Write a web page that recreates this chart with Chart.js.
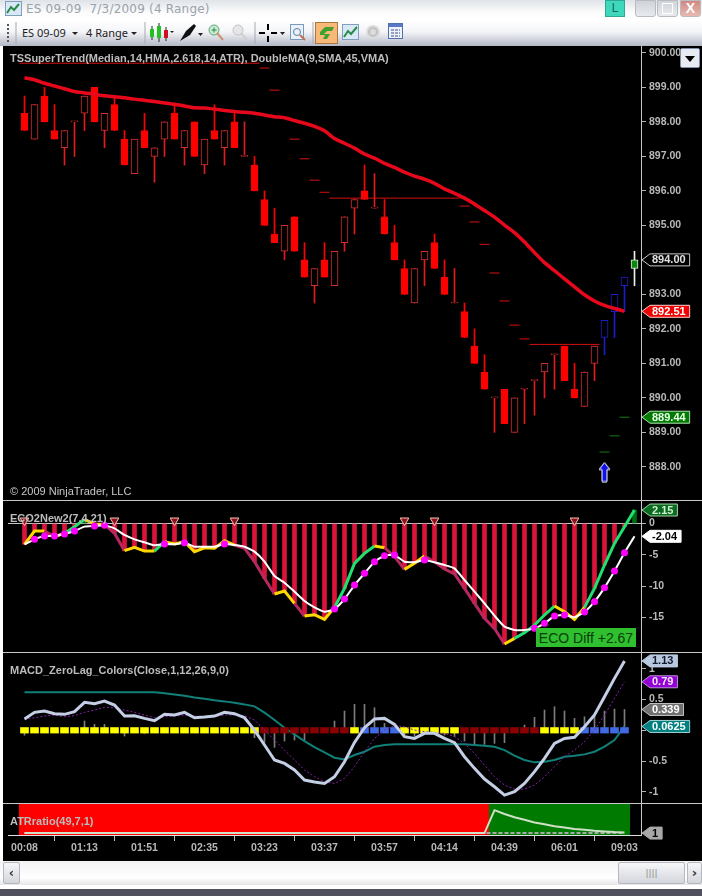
<!DOCTYPE html>
<html>
<head>
<meta charset="utf-8">
<script src="https://cdn.jsdelivr.net/npm/chart.js@4"></script>
<style>
  html, body { margin: 0; padding: 0; background: #fff; }
  #win { position: relative; width: 702px; height: 896px; overflow: hidden; font-family: "Liberation Sans", Arial, sans-serif; background: #fff; }
  #titlebar { position: absolute; left: 0; top: 0; width: 702px; height: 20px; background: linear-gradient(#dfe3e8, #fbfbfb 60%, #fff); }
  #titlebar .cap { position: absolute; left: 26px; top: 0; font: 12px "DejaVu Sans", sans-serif; line-height: 18px; color: #9aa2ab; letter-spacing: .2px; white-space: pre; }
  #toolbar { position: absolute; left: 0; top: 20px; width: 702px; height: 26px; background: linear-gradient(#fff, #f4f5f8 45%, #b4b8c6); }
  #toolbar span { position: absolute; top: 6px; font: 11px "Noto Sans", sans-serif; line-height: 14px; color: #1c1c1c; white-space: pre; }
  #toolbar svg, #titlebar svg { position: absolute; }
  .lbtn { position: absolute; left: 605px; top: 0; width: 20px; height: 17px; background: #3fd8bd; border: 1px solid #2ea894; box-sizing: border-box; font: 12px "Liberation Sans"; color: #166; text-align: center; line-height: 15px; }
  .wbtn { position: absolute; top: 0; width: 21px; height: 17px; border: 1px solid #b8bcc2; border-radius: 0 0 3px 3px; box-sizing: border-box; background: linear-gradient(#cfd3d8, #e8eaee); color: #fff; text-align: center; }
  #pane { position: absolute; left: 3px; top: 46px; width: 699px; height: 815px; background: #000; }
  canvas { position: absolute; left: 8px; }
  .sep { position: absolute; left: 3px; width: 699px; height: 1px; background: #c8c8c8; }
  .cap { position: absolute; color: #c0c0c0; white-space: pre; }
  .ptitle { position: absolute; left: 10px; font: bold 11px "Liberation Sans", sans-serif; line-height: 12px; color: #bcbcbc; white-space: pre; }
  #ecobox { position: absolute; left: 536px; top: 628px; width: 100px; height: 19px; background: #2fbf2f; color: #0b3d0b; font: 14px "Liberation Sans", sans-serif; line-height: 20px; text-align: center; white-space: pre; }
  #drop { position: absolute; left: 680px; top: 48px; width: 20px; height: 20px; box-sizing: border-box; border: 1px solid #7f90a8; border-radius: 2px; background: #e8ecf2; }
  #drop:after { content: ""; position: absolute; left: 4px; top: 7px; border: 5px solid transparent; border-top: 6px solid #000; }
  #scroll { position: absolute; left: 0; top: 861px; width: 702px; height: 24px; background: linear-gradient(#f3f3f4, #fff 70%, #e6e6e8); }
  #scroll div { position: absolute; top: 1px; height: 22px; box-sizing: border-box; border: 1px solid #b6b8be; border-radius: 2px; background: linear-gradient(#f6f7f9, #d3d6dc); text-align: center; font: bold 13px "DejaVu Sans", sans-serif; line-height: 20px; color: #333; }
  #foot { position: absolute; left: 0; top: 889px; width: 702px; height: 7px; background: #50505e; }
</style>
</head>
<body>
<div id="win">
  <div id="titlebar">
    <svg style="left:5px;top:1px" width="18" height="16"><rect x=".5" y=".5" width="16" height="14" fill="#d8e8f4" stroke="#7f9fbf"/><path d="M2 12 L6 6 L9 9 L14 3" stroke="#2a8a4a" stroke-width="2" fill="none"/></svg>
    <div class="cap">ES 09-09  7/3/2009 (4 Range)</div>
    <div class="lbtn">L</div>
    <div class="wbtn" style="left:635px">_</div>
    <div class="wbtn" style="left:657px"><svg style="left:4px;top:2px" width="11" height="11"><rect x=".5" y=".5" width="10" height="10" fill="none" stroke="#fff"/></svg></div>
    <div class="wbtn" style="left:680px;background:linear-gradient(#d08880,#e8b8b0);font:bold 14px 'Liberation Sans';line-height:15px">X</div>
  </div>
  <div id="toolbar">
    <svg style="left:5px;top:3px" width="6" height="20"><path d="M3 1V19" stroke="#555" stroke-dasharray="2 2" stroke-width="2"/></svg>
    <svg style="left:15px;top:2px" width="2" height="22"><path d="M1 0V22" stroke="#a8a8b0"/></svg>
    <span style="left:22px">ES 09-09</span>
    <svg style="left:72px;top:12px" width="7" height="4"><path d="M0 0H6L3 3Z" fill="#222"/></svg>
    <span style="left:86px">4 Range</span>
    <svg style="left:131px;top:12px" width="7" height="4"><path d="M0 0H6L3 3Z" fill="#222"/></svg>
    <svg style="left:144px;top:2px" width="2" height="22"><path d="M1 0V22" stroke="#a8a8b0"/></svg>
    <svg style="left:148px;top:3px" width="26" height="20"><path d="M4 3V17M11 0V19M18 4V18" stroke="#222"/><rect x="2" y="6" width="4" height="8" fill="#22c020"/><rect x="9" y="3" width="4" height="12" fill="#22c020"/><rect x="16" y="7" width="4" height="8" fill="#d01020"/><path d="M22 8H26L24 10Z" fill="#222"/></svg>
    <svg style="left:178px;top:3px" width="26" height="20"><path d="M2 18L8 8L16 1L18 3L12 12Z" fill="#111"/><path d="M20 10H25L22.500 13Z" fill="#222"/></svg>
    <svg style="left:208px;top:4px" width="16" height="18"><circle cx="6" cy="6" r="5" fill="#cfe8d8" stroke="#58a878"/><path d="M9 9L15 16" stroke="#d09070" stroke-width="2"/><path d="M3.500 6H8.500M6 3.500V8.500" stroke="#209040"/></svg>
    <svg style="left:232px;top:4px" width="16" height="18"><circle cx="6" cy="6" r="5" fill="#e6e6e6" stroke="#c4c4c4"/><path d="M9 9L15 16" stroke="#d0d0d0" stroke-width="2"/></svg>
    <svg style="left:254px;top:2px" width="2" height="22"><path d="M1 0V22" stroke="#a8a8b0"/></svg>
    <svg style="left:258px;top:3px" width="28" height="20"><path d="M10 1V7M10 13V19M1 10H7M13 10H19" stroke="#000" stroke-width="2"/><path d="M22 9H27L24.500 12Z" fill="#222"/></svg>
    <svg style="left:290px;top:4px" width="16" height="18"><rect x=".5" y=".5" width="13" height="15" fill="#e8f0fa" stroke="#7a98bc"/><circle cx="7" cy="8" r="3.500" fill="none" stroke="#6080a0"/><path d="M10 11L15 16" stroke="#c07050" stroke-width="2"/></svg>
    <svg style="left:312px;top:2px" width="2" height="22"><path d="M1 0V22" stroke="#a8a8b0"/></svg>
    <svg style="left:315px;top:2px" width="23" height="22"><rect x=".5" y=".5" width="22" height="21" fill="#f8b878" stroke="#a87840"/><path d="M5 10L10 5H19L17 9H12L9 12H15L12 17H8L10 13H5Z" fill="#40a030"/></svg>
    <svg style="left:342px;top:4px" width="18" height="18"><rect x=".5" y=".5" width="16" height="15" fill="#d8e8f4" stroke="#7f9fbf"/><path d="M2 13L6 7L9 10L15 3" stroke="#2a8a4a" stroke-width="2" fill="none"/></svg>
    <svg style="left:365px;top:4px" width="18" height="18"><circle cx="8" cy="8" r="7" fill="#dcdcdc"/><circle cx="8" cy="8" r="4" fill="none" stroke="#c2c2c2" stroke-width="2"/></svg>
    <svg style="left:388px;top:3px" width="16" height="18"><rect x=".5" y=".5" width="14" height="15" fill="#eef2fa" stroke="#5070b0"/><rect x="1" y="1" width="13" height="3" fill="#5878c8"/><path d="M3 7H12M3 10H12M3 13H12" stroke="#405080" stroke-dasharray="3 1"/></svg>
  </div>

  <div id="pane"></div>
  <canvas id="priceChart" style="top:46px" width="694" height="454"></canvas>
  <canvas id="ecoChart" style="top:501px" width="694" height="151"></canvas>
  <canvas id="macdChart" style="top:653px" width="694" height="150"></canvas>
  <canvas id="atrChart" style="top:804px" width="694" height="57"></canvas>
  <div class="sep" style="top:500px"></div>
  <div class="sep" style="top:652px"></div>
  <div class="sep" style="top:803px"></div>

  <div class="ptitle" style="top:52px">TSSuperTrend(Median,14,HMA,2.618,14,ATR), DoubleMA(9,SMA,45,VMA)</div>
  <div class="ptitle" style="top:485px;font-weight:normal;color:#c8c8c8">© 2009 NinjaTrader, LLC</div>
  <div class="ptitle" style="top:512px">ECO2New2(7,4,21)</div>
  <div class="ptitle" style="top:664px">MACD_ZeroLag_Colors(Close,1,12,26,9,0)</div>
  <div class="ptitle" style="top:815px">ATRratio(49,7,1)</div>
  <div id="ecobox">ECO Diff +2.67</div>
  <div id="drop"></div>

  <div id="scroll">
    <div style="left:3px;width:17px">‹</div>
    <div style="left:618px;width:67px;font-weight:normal;font-size:9px;color:#888">||||</div>
    <div style="left:687px;width:15px">›</div>
  </div>
  <div id="foot"></div>
</div>

<script>
const timeLabels = ['00:08', '01:13', '01:51', '02:35', '03:23', '03:37', '03:57', '04:14', '04:39', '06:01', '09:03'];
const timeTickBars = [0, 6, 12, 18, 24, 30, 36, 42, 48, 54, 60];

const opens = [898.25, 897.5, 898.75, 897.75, 897.25, 898, 898.25, 899, 897.75, 898.5, 897.5, 896.5, 897.75, 897, 897.5, 898.25, 897.25, 898, 896.75, 897.75, 897.25, 898, 897, 896.75, 895.75, 894.75, 894.25, 895.25, 894, 893.25, 894, 893.25, 894.5, 895.5, 896, 895.5, 895.25, 894.5, 893.75, 892.75, 894, 894.5, 893.5, 892.75, 892.5, 891.5, 890.75, 890, 890.25, 889, 890.25, 890.5, 890.75, 891.25, 891.5, 890.25, 889.75, 891, 891.75, 892.5, 893.25, 893.75];
const highs = [898.75, 898.5, 899, 898.5, 897.75, 898, 898.75, 899, 898.25, 898.75, 897.75, 897.5, 898.25, 897.25, 898, 898.5, 897.75, 898, 897.5, 898.5, 897.75, 898.25, 898, 897, 896, 895.5, 895, 895.25, 894.5, 893.75, 894.5, 894.25, 895.25, 895.75, 896.75, 896.5, 895.75, 895, 894, 893.75, 894.25, 894.75, 894, 893.75, 892.75, 892, 891.25, 890, 890.25, 890, 890.25, 890.5, 891, 891.25, 891.5, 891, 890.75, 891.5, 892.25, 893, 893.5, 894.25];
const lows = [897.75, 897.5, 898, 897.5, 896.75, 897, 897.75, 898, 897.25, 897.75, 896.75, 896.5, 897.25, 896.25, 897, 897.5, 896.75, 897, 896.5, 897.5, 896.75, 897.25, 897, 896, 895, 894.5, 894, 894.25, 893.5, 892.75, 893.5, 893.25, 894.25, 894.75, 895.75, 895.5, 894.75, 894, 893, 892.75, 893.25, 893.75, 893, 892.75, 891.75, 891, 890.25, 889, 889.25, 889, 889.25, 889.5, 890, 890.25, 890.5, 890, 889.75, 890.5, 891.25, 891.75, 892.5, 893.25];
const closes = [897.75, 898.5, 898, 897.5, 897.75, 898, 898.75, 898, 898.25, 897.75, 896.75, 897.5, 897.25, 897.25, 898, 897.5, 897.75, 897, 897.5, 897.5, 897.75, 897.25, 897, 896, 895, 894.5, 895, 894.25, 893.5, 893.75, 893.5, 894.25, 895.25, 895.75, 895.75, 895.5, 894.75, 894, 893, 893.75, 894.25, 893.75, 893, 892.75, 891.75, 891, 890.25, 890, 889.25, 890, 890.25, 890.5, 891, 891.25, 890.5, 890, 890.75, 891.5, 892.25, 893, 893.5, 894];

const slowMa = [899.28, 899.22, 899.12, 899.04, 898.96, 898.88, 898.84, 898.80, 898.76, 898.73, 898.70, 898.66, 898.63, 898.59, 898.55, 898.51, 898.46, 898.41, 898.40, 898.37, 898.33, 898.30, 898.28, 898.25, 898.20, 898.15, 898.12, 898.04, 897.96, 897.87, 897.74, 897.52, 897.38, 897.24, 897.07, 896.95, 896.80, 896.68, 896.54, 896.43, 896.34, 896.22, 896.06, 895.93, 895.79, 895.62, 895.43, 895.24, 895.01, 894.79, 894.52, 894.21, 893.92, 893.69, 893.45, 893.22, 892.99, 892.81, 892.68, 892.59, 892.51];
const trendDown = [899.7, 899.7, 899.7, 899.7, 899.7, 899.7, 899.7, 899.7, 899.7, 899.7, 899.7, 899.7, 899.7, 899.7, 899.7, 899.7, 899.7, 899.7, 899.7, 899.7, 899.7, 899.7, 899.7, 899.7, 899.56, 898.92, 898.13, 897.5, 896.93, 896.31, 895.96, 895.79, 895.79, 895.79, 895.79, 895.79, 895.79, 895.79, 895.79, 895.79, 895.79, 895.79, 895.79, 895.79, 895.56, 895.1, 894.45, 893.62, 892.81, 892.11, 891.71, 891.55, 891.55, 891.55, 891.55, 891.55, 891.55, 891.55];
const trendUp = { 58: 888.43, 59: 888.9, 60: 889.44 };
const arrowBar = 58;
const arrowPrice = 887.85;
const priceTicks = [900, 899, 898, 897, 896, 895, 894, 893, 892, 891, 890, 889, 888];
const priceTags = ['892.51', '889.44', '894.00'];

const ecoLine = [-3.32, -1.2, -1.2, -2.1, -1.57, -0.5, 0.66, -0.08, -0.14, -1.56, -4.33, -3.8, -4.39, -4.39, -2.9, -3.27, -2.9, -4.49, -3.87, -3.96, -2.74, -3.43, -3.96, -6.09, -8.74, -11.24, -10.77, -12.73, -14.75, -14.54, -15.28, -13.37, -10.34, -6.35, -4.76, -3.59, -3.85, -5.29, -7.31, -6.35, -5.19, -6.09, -7.25, -8.05, -10.34, -12.73, -15.12, -16.72, -19.22, -18.31, -17.41, -16.2, -14.59, -13.16, -14.07, -15.28, -13.37, -10.34, -6.62, -3.16, -0.5, 2.15];
const ecoStates = 'yyryggyyrryyygyyyyyyyrrrryyryyyggggyrryyrrrrrrrryggggyyygggg' + 'g';
const ecoSignal = [-3.32, -2.52, -1.99, -1.99, -1.67, -1.2, -0.5, -0.4, -0.29, -0.77, -1.83, -2.52, -3.0, -3.48, -3.27, -3.32, -3.06, -3.7, -3.7, -3.7, -3.27, -3.43, -3.7, -4.49, -6.09, -8.37, -9.44, -10.87, -12.36, -13.37, -14.06, -13.64, -12.04, -9.81, -7.95, -6.09, -5.13, -5.02, -6.09, -6.19, -5.82, -6.19, -6.62, -7.15, -9.01, -10.87, -12.73, -14.7, -16.45, -16.98, -16.98, -16.72, -15.92, -14.75, -14.59, -14.96, -14.11, -12.47, -10.23, -7.58, -4.65, -2.04];
const ecoDotBars = [1, 2, 3, 4, 5, 7, 8, 14, 16, 20, 31, 32, 33, 34, 35, 36, 37, 40, 51, 52, 53, 54, 56, 57, 58, 59, 60];
const ecoFlagBars = [0, 9, 15, 21, 38, 41, 55];
const ecoFlagLevel = 0.48;
const ecoTicks = [0, -5, -10, -15];
const ecoTags = ['2.15', '-2.04'];

const macdLine = [0.183, 0.292, 0.314, 0.27, 0.26, 0.303, 0.455, 0.433, 0.477, 0.411, 0.232, 0.238, 0.194, 0.156, 0.26, 0.249, 0.292, 0.205, 0.216, 0.232, 0.292, 0.27, 0.205, 0.004, -0.24, -0.484, -0.539, -0.647, -0.81, -0.843, -0.865, -0.756, -0.512, -0.197, 0.042, 0.183, 0.194, 0.097, -0.104, -0.132, -0.05, -0.05, -0.132, -0.202, -0.43, -0.62, -0.794, -0.919, -1.055, -1.0, -0.865, -0.674, -0.457, -0.213, -0.132, -0.115, 0.059, 0.249, 0.547, 0.846, 1.13];
const macdAvg = [0.183, 0.205, 0.232, 0.249, 0.221, 0.238, 0.292, 0.33, 0.373, 0.368, 0.33, 0.292, 0.249, 0.205, 0.221, 0.232, 0.249, 0.232, 0.221, 0.227, 0.249, 0.249, 0.238, 0.167, 0.004, -0.159, -0.322, -0.484, -0.647, -0.756, -0.837, -0.865, -0.783, -0.593, -0.349, -0.132, 0.004, 0.075, 0.059, 0.004, -0.023, -0.034, -0.05, -0.104, -0.213, -0.376, -0.566, -0.756, -0.892, -0.957, -0.957, -0.892, -0.756, -0.593, -0.43, -0.322, -0.186, 0.004, 0.249, 0.52, 0.79];
const macdSlow = [0.618, 0.618, 0.618, 0.618, 0.618, 0.618, 0.618, 0.618, 0.618, 0.618, 0.618, 0.618, 0.618, 0.618, 0.602, 0.585, 0.564, 0.536, 0.515, 0.488, 0.471, 0.45, 0.422, 0.39, 0.287, 0.167, 0.042, -0.066, -0.175, -0.273, -0.36, -0.446, -0.474, -0.403, -0.349, -0.267, -0.24, -0.229, -0.229, -0.229, -0.229, -0.229, -0.229, -0.229, -0.229, -0.24, -0.251, -0.267, -0.322, -0.414, -0.484, -0.522, -0.512, -0.484, -0.43, -0.414, -0.392, -0.349, -0.267, -0.159, 0.0625];
const macdDiff = [-0.08, 0.01, 0.02, 0.01, 0.02, 0.03, 0.151, 0.097, 0.097, 0.02, -0.094, -0.03, -0.05, 0.02, 0.02, 0.01, 0.02, 0.02, 0.01, 0.02, 0.02, 0.02, 0.01, -0.12, -0.197, -0.278, -0.175, -0.159, -0.159, -0.03, 0.02, 0.151, 0.314, 0.422, 0.422, 0.368, 0.113, 0.059, -0.077, -0.094, 0.01, -0.03, -0.077, -0.104, -0.175, -0.229, -0.229, -0.213, -0.202, 0.02, 0.086, 0.211, 0.33, 0.384, 0.314, 0.194, 0.221, 0.238, 0.314, 0.346, 0.339];
const macdStates = 'yyyyyyyyyyyyyyyyyyyyyyyyrrrrrrrrrybbbbyyyyyyrrrrrrrryyyybbbbb';
const macdTicks = [1, 0.5, 0, -0.5, -1];
const macdTags = ['0.0625', '0.339', '0.79', '1.13'];

const atrRatio = [1, 1, 1, 1, 1, 1, 1, 1, 1, 1, 1, 1, 1, 1, 1, 1, 1, 1, 1, 1, 1, 1, 1, 1, 1, 1, 1, 1, 1, 1, 1, 1, 1, 1, 1, 1, 1, 1, 1, 1, 1, 1, 1, 1, 1, 1, 1, 4.94, 4.28, 3.72, 3.28, 2.83, 2.5, 2.17, 1.94, 1.72, 1.56, 1.39, 1.28, 1.17, 1.11];
const atrBase = [1, 1, 1, 1, 1, 1, 1, 1, 1, 1, 1, 1, 1, 1, 1, 1, 1, 1, 1, 1, 1, 1, 1, 1, 1, 1, 1, 1, 1, 1, 1, 1, 1, 1, 1, 1, 1, 1, 1, 1, 1, 1, 1, 1, 1, 1, 1, 1, 1, 1, 1, 1, 1, 1, 1, 1, 1, 1, 1, 1, 1];
const atrStates = 'rrrrrrrrrrrrrrrrrrrrrrrrrrrrrrrrrrrrrrrrrrrrrrrgggggggggggggg';
const atrTags = ['1'];

const gray = '#b8b8b8';
const tickFont = { family: 'Liberation Sans', size: 10.5, weight: 'bold' };
const xRange = { min: -1.65, max: 61.65 };

const points = (values) => values.map((v, i) => ({ x: i, y: v }));

// one flat dash per bar, joined where the level holds
const stepPoints = (values) => {
  const out = [];
  Object.keys(values).map(Number).forEach((i) => {
    out.push({ x: i - 0.5, y: values[i] }, { x: i + 0.5, y: values[i] });
    if (values[i + 1] !== values[i]) out.push({ x: i + 0.5, y: null });
  });
  return out;
};

const yAxis = (min, max, ticks, fmt) => ({
  min, max,
  position: 'right',
  grid: {
    tickLength: 5,
    tickColor: '#b0b0b0',
    color: (c) => (c.tick && c.tick.value === 0 && ticks === ecoTicks ? '#c8c8c8' : 'transparent')
  },
  border: { color: '#c8c8c8', display: true },
  ticks: { color: gray, font: tickFont, padding: 3, autoSkip: false, maxRotation: 0, crossAlign: 'near', callback: fmt },
  afterBuildTicks: (s) => { s.ticks = ticks.map((v) => ({ value: v })); },
  // keep the plot area the full pane height, the labels may overhang
  afterFit: (s) => { s.width = 61; s.paddingTop = 0; s.paddingBottom = 0; }
});

const xAxis = Object.assign({ type: 'linear', display: false, offset: false, grid: { display: false } }, xRange);

const tagStyles = {
  '894.00': ['#000', '#e0e0e0', '#c8c8c8'], '892.51': ['#f00000', '#fff', '#ffd0d0'], '889.44': ['#007a00', '#e8ffe8', '#b0e0b0'],
  '2.15': ['#0a6a20', '#d0f0d0', '#a0d0a0'], '-2.04': ['#fff', '#000', '#fff'],
  '1.13': ['#b8c8de', '#10182a', '#b8c8de'], '0.79': ['#9400d3', '#f4e8ff', '#c090e0'], '0.339': ['#707070', '#fff', '#c0c0c0'], '0.0625': ['#008080', '#fff', '#a0d0d0'],
  '1': ['#a8a8a8', '#000', '#a8a8a8']
};

// value boxes on the price axis, pointing at the scale
const tagPlugin = (labels) => ({
  id: 'axisTags',
  afterDraw(chart) {
    const c = chart.ctx;
    const y = chart.scales.y;
    const left = chart.chartArea.right + 1;
    c.save();
    c.font = 'bold 11px "Liberation Sans"';
    c.textBaseline = 'middle';
    labels.forEach((txt) => {
      const [bg, fg, edge] = tagStyles[txt];
      const py = y.getPixelForValue(parseFloat(txt));
      const right = left + 11 + c.measureText(txt).width + 3;
      c.beginPath();
      c.moveTo(left, py);
      c.lineTo(left + 8, py - 6);
      c.lineTo(right, py - 6);
      c.lineTo(right, py + 6);
      c.lineTo(left + 8, py + 6);
      c.closePath();
      c.fillStyle = bg;
      c.fill();
      c.strokeStyle = edge;
      c.stroke();
      c.fillStyle = fg;
      c.fillText(txt, left + 10, py + 0.5);
    });
    c.restore();
  }
});

const arrowIcon = () => {
  const cv = document.createElement('canvas');
  cv.width = 13;
  cv.height = 21;
  const c = cv.getContext('2d');
  c.beginPath();
  c.moveTo(6.5, 1);
  c.lineTo(12, 8);
  c.lineTo(9, 8);
  c.lineTo(9, 20);
  c.lineTo(4, 20);
  c.lineTo(4, 8);
  c.lineTo(1, 8);
  c.closePath();
  c.fillStyle = '#1010e8';
  c.fill();
  c.strokeStyle = '#ffffff';
  c.stroke();
  return cv;
};

const baseOptions = (scales) => ({
  responsive: false,
  animation: false,
  devicePixelRatio: 1,
  layout: { padding: 0, autoPadding: false },
  events: [],
  plugins: { legend: { display: false }, tooltip: { enabled: false } },
  scales
});

const isUp = (i) => closes[i] >= opens[i];
const candleColor = (i, hollowRed) => {
  if (i === 61) return '#e8f0e8';
  if (i >= 58) return '#1c1cc8';
  return isUp(i) ? hollowRed : '#ff0000';
};

const renderPrice = () => new Chart(document.getElementById('priceChart'), {
  type: 'bar',
  data: {
    datasets: [
      {
        type: 'scatter', data: [{ x: arrowBar, y: arrowPrice }], pointStyle: arrowIcon(), order: 0, pointRadius: 10
      },
      {
        type: 'line', data: points(slowMa), borderColor: '#e8081c', borderWidth: 3.5, pointRadius: 0, tension: 0.2, order: 1
      },
      {
        type: 'line', data: stepPoints(trendDown), borderColor: '#d81010', borderWidth: 1, pointRadius: 0, order: 2
      },
      {
        type: 'line', data: stepPoints(trendUp), borderColor: '#167a16', borderWidth: 1, pointRadius: 0, order: 2
      },
      {
        data: opens.map((o, i) => ({ x: i, y: [o, closes[i]] })),
        backgroundColor: opens.map((o, i) => (i === 61 ? '#0a8a0a' : isUp(i) ? '#000' : '#ff0000')),
        borderColor: opens.map((o, i) => candleColor(i, '#d03030')),
        borderWidth: 1, borderSkipped: false, barThickness: 7, minBarLength: 1, grouped: false, order: 3
      },
      {
        data: highs.map((h, i) => ({ x: i, y: [lows[i], h] })),
        backgroundColor: highs.map((h, i) => candleColor(i, '#e01c1c')),
        barThickness: 1, grouped: false, order: 4
      }
    ]
  },
  options: baseOptions({
    x: xAxis,
    y: yAxis(887.04, 900.2, priceTicks, (v) => v.toFixed(2))
  }),
  plugins: [tagPlugin(priceTags)]
});

const ecoColors = { y: '#ffd800', g: '#20e070', r: '#b82860' };

const renderEco = () => new Chart(document.getElementById('ecoChart'), {
  type: 'bar',
  data: {
    datasets: [
      {
        type: 'scatter', data: ecoFlagBars.map((b) => ({ x: b, y: ecoFlagLevel })),
        pointStyle: 'triangle', rotation: 180, pointRadius: 5, backgroundColor: '#901020', borderColor: '#f4c0b0', borderWidth: 1, order: 0
      },
      {
        type: 'line', data: points(ecoSignal), borderColor: '#fff', borderWidth: 2, tension: 0.15, order: 1,
        pointRadius: (c) => (ecoDotBars.includes(c.dataIndex) ? 2.5 : 0),
        pointBackgroundColor: '#ff00ff', pointBorderColor: '#ff00ff'
      },
      {
        type: 'line', data: points(ecoLine), borderWidth: 3, pointRadius: 0, order: 2,
        borderColor: ecoColors.y,
        segment: { borderColor: (c) => ecoColors[ecoStates[c.p0DataIndex]] }
      },
      {
        data: ecoLine.map((v, i) => ({ x: i, y: [0, v] })),
        backgroundColor: ecoLine.map((v) => (v > 0 ? '#006a10' : '#dc143c')),
        barThickness: 4, grouped: false, order: 3
      }
    ]
  },
  options: baseOptions({
    x: xAxis,
    y: yAxis(-20.49, 3.59, ecoTicks, (v) => String(v))
  }),
  plugins: [tagPlugin(ecoTags)]
});

const macdColors = { y: '#ffff00', r: '#8b0000', b: '#4169e1' };

const renderMacd = () => new Chart(document.getElementById('macdChart'), {
  type: 'bar',
  data: {
    datasets: [
      {
        type: 'line', data: points(macdLine), borderColor: '#c4cee4', borderWidth: 3, pointRadius: 0, order: 0
      },
      {
        data: macdStates.split('').map((s, i) => ({ x: i, y: [-0.045, 0.045] })),
        backgroundColor: macdStates.split('').map((s) => macdColors[s]),
        barThickness: 8, grouped: false, order: 2
      },
      {
        type: 'line', data: points(macdAvg), borderColor: '#8a20b0', borderWidth: 1, borderDash: [2, 2], pointRadius: 0, order: 1
      },
      {
        type: 'line', data: points(macdSlow), borderColor: '#108078', borderWidth: 2, pointRadius: 0, order: 3
      },
      {
        data: macdDiff.map((v, i) => ({ x: i, y: [0, v] })),
        backgroundColor: '#7c7c7c',
        barThickness: 1, grouped: false, order: 4
      }
    ]
  },
  options: baseOptions({
    x: xAxis,
    y: yAxis(-1.184, 1.259, macdTicks, (v) => String(v))
  }),
  plugins: [tagPlugin(macdTags)]
});

const renderAtr = () => new Chart(document.getElementById('atrChart'), {
  type: 'bar',
  data: {
    datasets: [
      {
        type: 'line', data: points(atrRatio), borderColor: '#cfe0c8', borderWidth: 2, pointRadius: 0, order: 0
      },
      {
        type: 'line', data: points(atrBase), borderColor: '#a8a8a8', borderWidth: 2, borderDash: [4, 2], pointRadius: 0, order: 1
      },
      {
        data: atrRatio.map((v, i) => ({ x: i, y: [0.67, 6] })),
        backgroundColor: atrStates.split('').map((s) => (s === 'r' ? '#ff0000' : '#007a00')),
        barThickness: 10.5, grouped: false, order: 2
      }
    ]
  },
  options: baseOptions({
    x: {
      type: 'linear', position: 'bottom', offset: false, min: xRange.min, max: xRange.max,
      grid: { drawOnChartArea: false, tickLength: 6, tickColor: '#c0c0c0' },
      border: { color: '#e0e0e0', display: true },
      ticks: {
        color: gray, font: tickFont, padding: 1, autoSkip: false, maxRotation: 0,
        callback: (v, idx) => timeLabels[idx]
      },
      afterBuildTicks: (s) => { s.ticks = timeTickBars.map((v) => ({ value: v })); },
      afterFit: (s) => { s.height = 26; }
    },
    y: yAxis(0.67, 6, [], (v) => String(v))
  }),
  plugins: [tagPlugin(atrTags)]
});

renderPrice();
renderEco();
renderMacd();
renderAtr();
</script>
</body>
</html>
